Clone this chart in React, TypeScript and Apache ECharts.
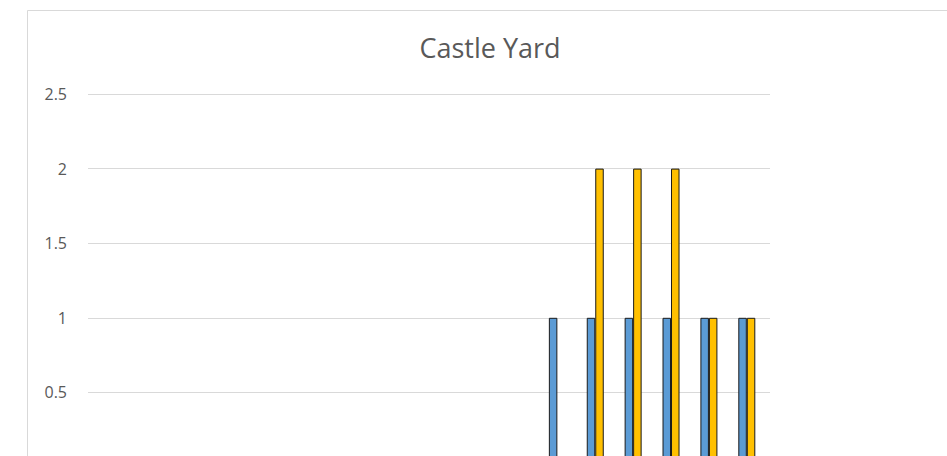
import React, { useEffect, useRef } from "react";
import * as echarts from "echarts";

const categories = ["1","2","3","4","5","6","7","8","9","10","11","12","13","14","15","16","17","18"];
const seriesA = [0,0,0,0,0,0,0,0,0,0,0,0,1,1,1,1,1,1];
const seriesB = [0,0,0,0,0,0,0,0,0,0,0,0,0,2,2,2,1,1];
const seriesC = [0,0,0,0,0,0,0,0,0,0,0,0,0,0,0,0,0,0];
const seriesNames = ["Series 1", "Series 2", "Series 3"];
const yTicks = { min: 0, max: 2.5, interval: 0.5 };

export default function App() {
  const ref = useRef<HTMLDivElement>(null);
  useEffect(() => {
    if (!ref.current) return;
    const chart = echarts.init(ref.current, undefined, { renderer: "svg" });
    const barStyle = (color: string) => ({ color, borderColor: "#1a1a1a", borderWidth: 1 });
    chart.setOption({
      animation: false,
      backgroundColor: "#ffffff",
      title: {
        text: "Castle Yard",
        left: "center",
        top: 19,
        textStyle: { fontFamily: "Open Sans", fontSize: 27, fontWeight: "normal", color: "#595959" },
      },
      graphic: [
        {
          type: "rect",
          shape: { x: 0.5, y: 0.5, width: 925, height: 599 },
          style: { fill: "none", stroke: "#d9d9d9", lineWidth: 1 },
          silent: true,
        },
      ],
      grid: { left: 61, right: 183, top: 84, bottom: 143, containLabel: false },
      xAxis: {
        type: "category",
        data: categories,
        axisLine: { lineStyle: { color: "#d9d9d9" } },
        axisTick: { show: false },
        axisLabel: { color: "#595959", fontFamily: "Open Sans", fontSize: 16 },
      },
      yAxis: {
        type: "value",
        min: yTicks.min,
        max: yTicks.max,
        interval: yTicks.interval,
        axisLine: { show: false },
        axisTick: { show: false },
        axisLabel: { color: "#595959", fontFamily: "Open Sans", fontSize: 16, margin: 21 },
        splitLine: { lineStyle: { color: "#d9d9d9", width: 1 } },
      },
      series: [
        { name: seriesNames[0], type: "bar", data: seriesA, barWidth: 8.5, barGap: "0%", itemStyle: barStyle("#5b9bd5") },
        { name: seriesNames[1], type: "bar", data: seriesB, barWidth: 8.5, barGap: "0%", itemStyle: barStyle("#ffc000") },
        { name: seriesNames[2], type: "bar", data: seriesC, barWidth: 8.5, barGap: "0%", itemStyle: barStyle("#a5a5a5") },
      ],
    });
    return () => chart.dispose();
  }, []);
  return (
    <div style={{ position: "fixed", left: 0, top: 0, width: 947, height: 456, overflow: "hidden", background: "#fff" }}>
      <div ref={ref} style={{ position: "absolute", left: 27, top: 10, width: 926, height: 600 }} />
    </div>
  );
}
